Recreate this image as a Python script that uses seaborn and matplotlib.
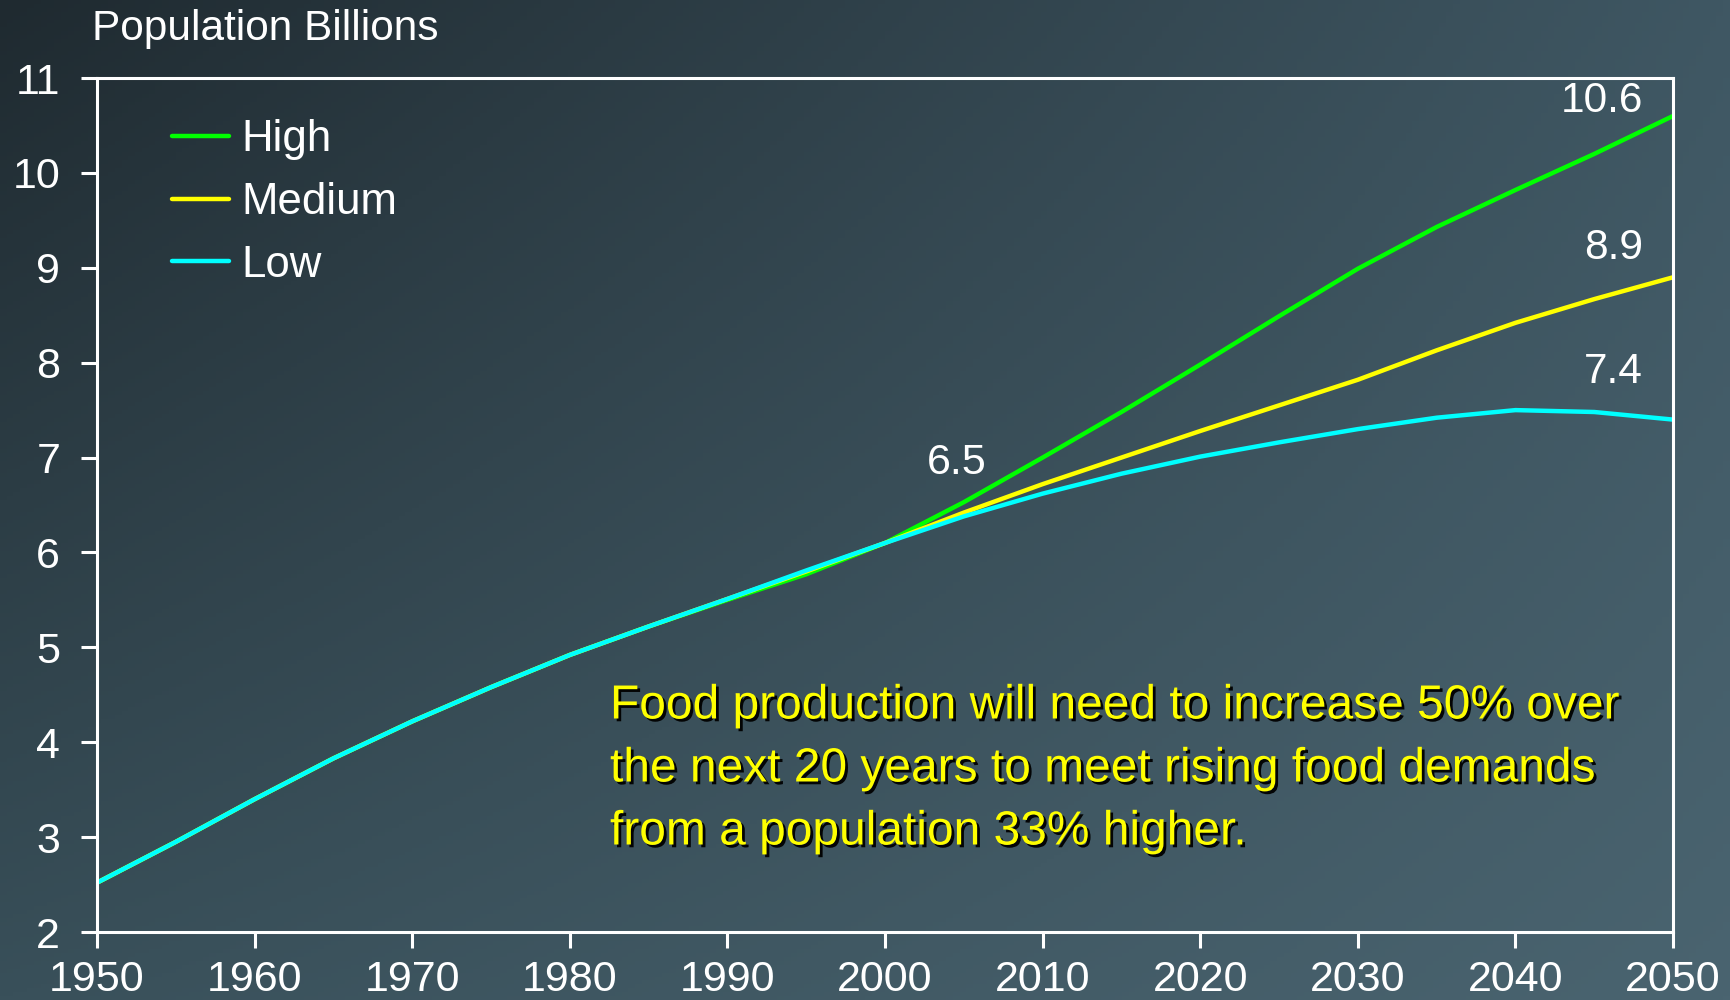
import numpy as np
import pandas as pd
import matplotlib
matplotlib.use("Agg")
import matplotlib.pyplot as plt
import matplotlib.patheffects as pe
import seaborn as sns

# ---------------- data ----------------
years = [1950, 1955, 1960, 1965, 1970, 1975, 1980, 1985, 1990, 1995, 2000,
         2005, 2010, 2015, 2020, 2025, 2030, 2035, 2040, 2045, 2050]
high = [2.52, 2.95, 3.40, 3.83, 4.22, 4.58, 4.92, 5.22, 5.50, 5.77, 6.10,
        6.53, 7.00, 7.48, 7.98, 8.49, 8.99, 9.43, 9.82, 10.20, 10.60]
medium = [2.52, 2.95, 3.40, 3.83, 4.22, 4.58, 4.92, 5.22, 5.51, 5.80, 6.10,
          6.42, 6.72, 7.00, 7.28, 7.55, 7.82, 8.13, 8.42, 8.67, 8.90]
low = [2.52, 2.95, 3.40, 3.83, 4.22, 4.58, 4.92, 5.22, 5.51, 5.81, 6.10,
       6.38, 6.62, 6.83, 7.01, 7.16, 7.30, 7.42, 7.50, 7.48, 7.40]
scenarios = ["High", "Medium", "Low"]
colors = ["#00ff00", "#ffff00", "#00ffff"]
end_labels = ["10.6", "8.9", "7.4"]
mid_label = "6.5"
mid_year = 2005
y_ticks = list(range(2, 12))
x_ticks = list(range(1950, 2051, 10))
title = "Population Billions"
note_lines = ["Food production will need to increase 50% over",
              "the next 20 years to meet rising food demands",
              "from a population 33% higher."]

df = pd.DataFrame({
    "year": years * 3,
    "value": high + medium + low,
    "scenario": [s for s in scenarios for _ in years],
})

# ---------------- style ----------------
sns.set_theme(style="white")
plt.rcParams["font.family"] = ["Liberation Sans", "DejaVu Sans"]

fig = plt.figure(figsize=(17.3, 10), dpi=100)

# background gradient
bg = fig.add_axes([0, 0, 1, 1], zorder=0)
tl = np.array([31, 42, 48]) / 255
tr = np.array([63, 87, 99]) / 255
bl = np.array([57, 80, 90]) / 255
br = np.array([74, 100, 112]) / 255
u = np.linspace(0, 1, 256)[None, :, None]
v = np.linspace(0, 1, 256)[:, None, None]
grad = (1 - v) * ((1 - u) * tl + u * tr) + v * ((1 - u) * bl + u * br)
bg.imshow(grad, extent=[0, 1, 0, 1], aspect="auto", origin="upper")
bg.axis("off")

ax = fig.add_axes([0.0561, 0.068, 0.9110, 0.854], zorder=1)
ax.patch.set_alpha(0)

sns.lineplot(data=df, x="year", y="value", hue="scenario",
             hue_order=scenarios, palette=colors, linewidth=3.2,
             ax=ax, legend=True)

ax.set_xlim(1950, 2050)
ax.set_ylim(2, 11)
ax.set_xticks(x_ticks)
ax.set_xticklabels([str(t) for t in x_ticks])
ax.set_yticks(y_ticks)
ax.set_yticklabels([str(t) for t in y_ticks])
ax.set_xlabel("")
ax.set_ylabel("")

for s in ax.spines.values():
    s.set_color("white")
    s.set_linewidth(2.2)
ax.tick_params(axis="both", direction="out", length=11.5, width=2.2,
               colors="white", labelsize=31, bottom=True, left=True,
               top=False, right=False)
ax.tick_params(axis="y", pad=15)
ax.tick_params(axis="x", pad=8.5)

handles, labels = ax.get_legend_handles_labels()
leg = ax.legend(handles, labels, loc="upper left",
                bbox_to_anchor=(0.0476, 0.952), frameon=False,
                fontsize=31.5, handlelength=1.3, handletextpad=0.28,
                labelspacing=0.5, borderpad=0, borderaxespad=0)
for t in leg.get_texts():
    t.set_color("white")
for h in leg.get_lines():
    h.set_linewidth(3.2)

# end labels
offsets = [(-21.6, 10.8), (-21.6, 21), (-21.6, 34)]
series = [high, medium, low]
for lab, ser, off in zip(end_labels, series, offsets):
    ax.annotate(lab, xy=(years[-1], ser[-1]), xytext=off,
                textcoords="offset points", ha="right", va="center",
                fontsize=30.5, color="white")

mi = years.index(mid_year)
ax.annotate(mid_label, xy=(mid_year, medium[mi]), xytext=(-5, 36),
            textcoords="offset points", ha="center", va="center",
            fontsize=31, color="white")

fig.text(92 / 1730, 1 - 29 / 1000, title, fontsize=30.5, color="white",
         ha="left", va="center")

shadow = [pe.SimplePatchShadow(offset=(2, -2), shadow_rgbFace="black",
                               alpha=0.95), pe.Normal()]
for i, line in enumerate(note_lines):
    fig.text(610 / 1730, 1 - (706 + 63 * i) / 1000, line, fontsize=34.5,
             color="#ffff00", ha="left", va="center", path_effects=shadow)

fig.savefig("out.png", dpi=100)
